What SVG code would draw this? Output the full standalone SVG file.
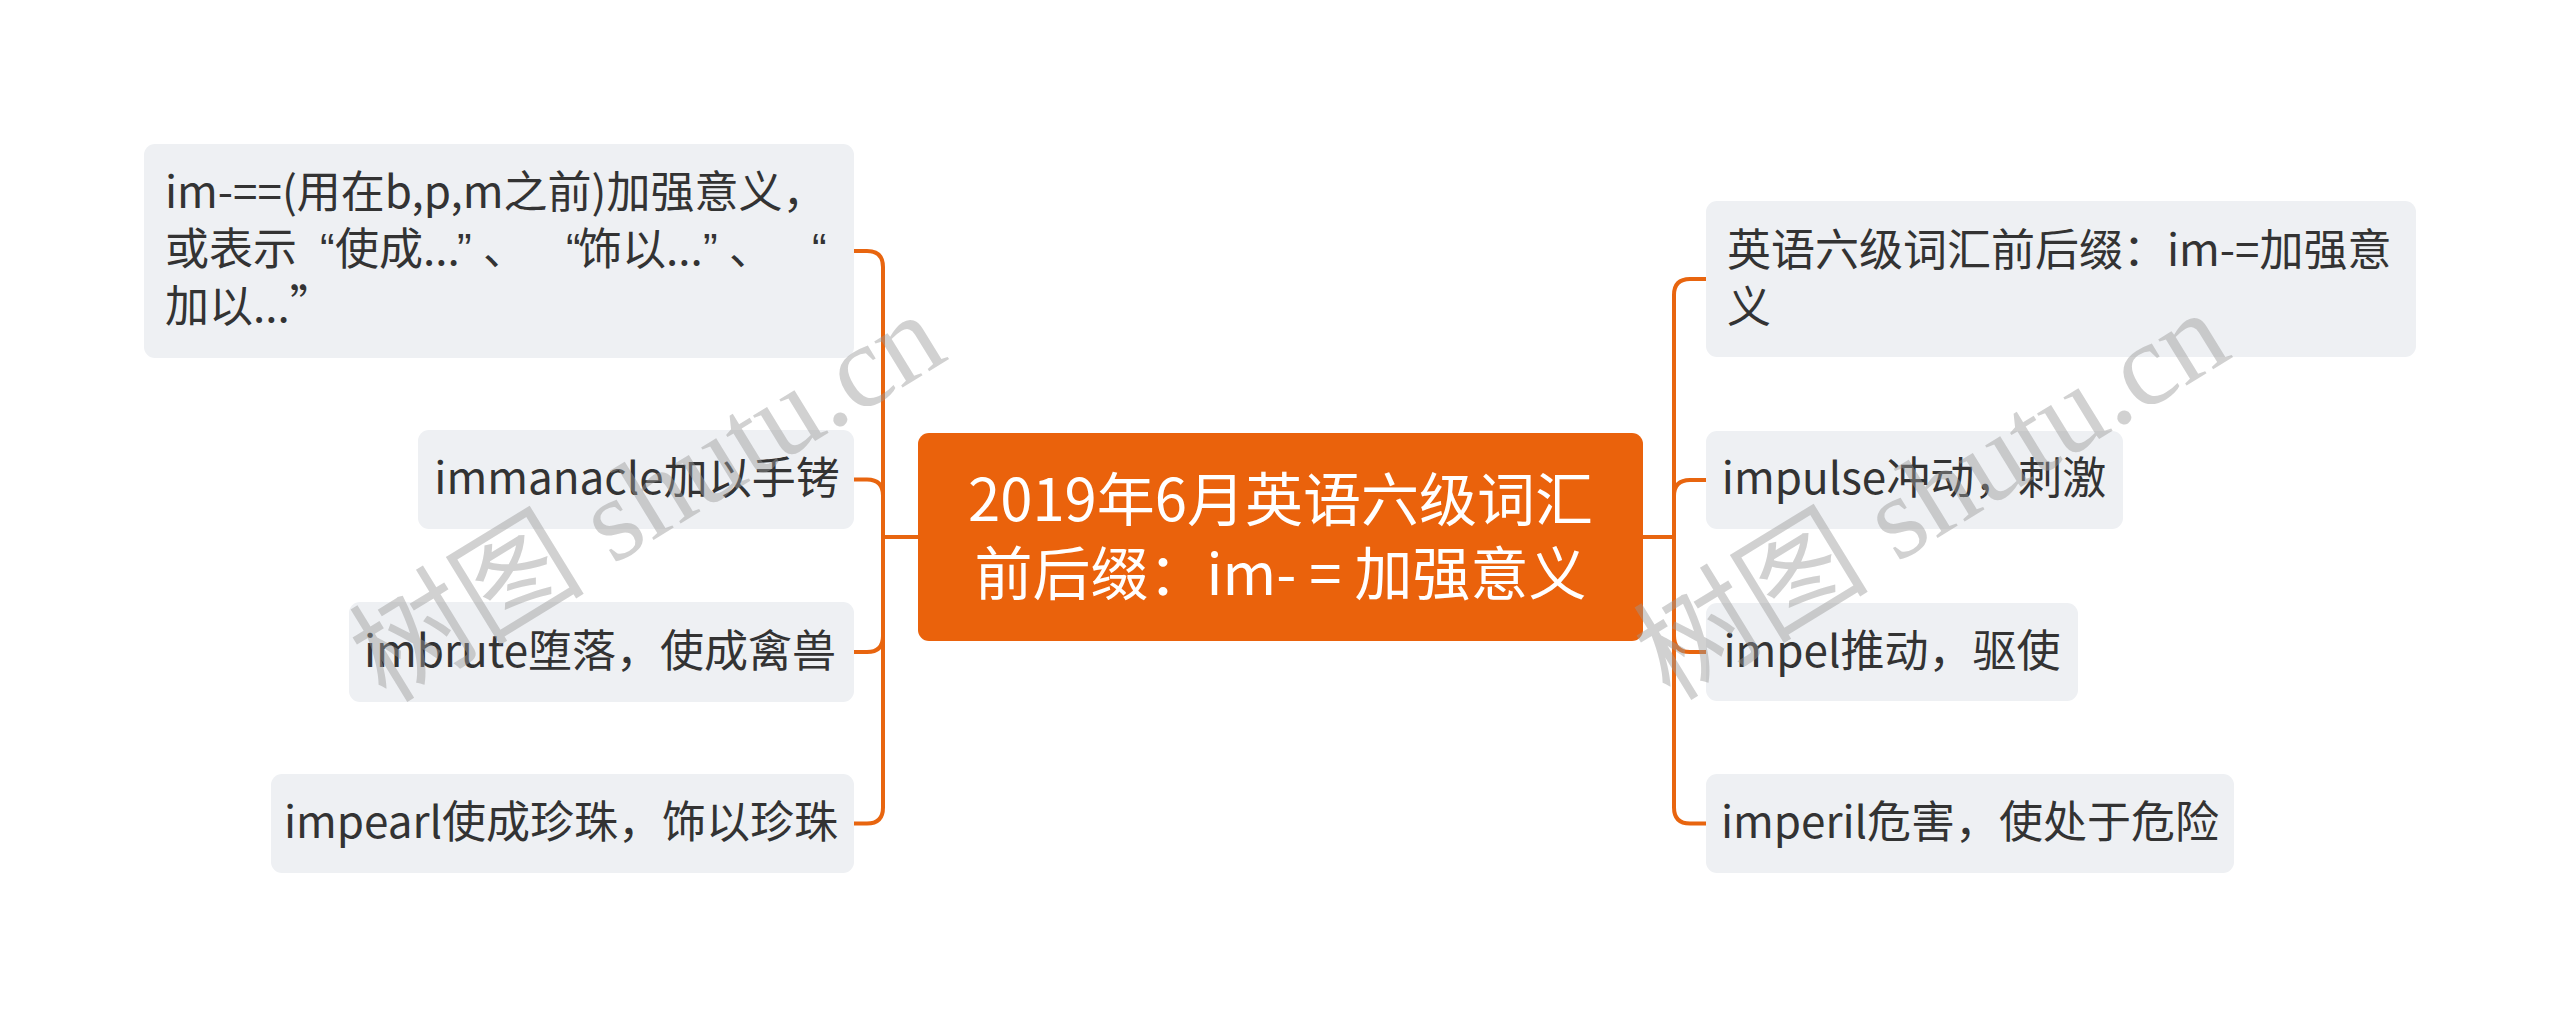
<svg xmlns="http://www.w3.org/2000/svg" width="2560" height="1017" viewBox="0 0 2560 1017">
<style>
.bg{fill:#ffffff}
.node rect{fill:#EEF0F3}
.t{font-family:"Noto Sans CJK SC","Noto Sans",sans-serif;font-size:44px;fill:#333333}
.q{font-family:"Liberation Sans",sans-serif}
.c{text-anchor:middle}
.root rect{fill:#EA620C}
.rt{font-family:"Noto Sans CJK SC","Noto Sans",sans-serif;font-size:58px;fill:#ffffff;text-anchor:middle}
.links path{fill:none;stroke:#E8650F;stroke-width:4;stroke-linecap:round;stroke-linejoin:round}
.wm{font-family:"Liberation Serif","Noto Sans CJK SC",serif;font-size:118px;fill:#999999;fill-opacity:0.45}
</style>
<rect class="bg" x="0" y="0" width="2560" height="1017"/>
<g class="links" id="connectors">
  <path d="M918,537 H883"/>
  <path d="M883,537 V267 Q883,251 867,251 H854"/>
  <path d="M883,537 V495.5 Q883,479.5 867,479.5 H854"/>
  <path d="M883,537 V636 Q883,652 867,652 H854"/>
  <path d="M883,537 V807.5 Q883,823.5 867,823.5 H854"/>
  <path d="M1643,537 H1674"/>
  <path d="M1674,537 V295 Q1674,279 1690,279 H1706"/>
  <path d="M1674,537 V496 Q1674,480 1690,480 H1706"/>
  <path d="M1674,537 V636 Q1674,652 1690,652 H1706"/>
  <path d="M1674,537 V807.5 Q1674,823.5 1690,823.5 H1706"/>
</g>
<g class="root" id="root">
  <rect x="918" y="433" width="725" height="208" rx="11"/>
  <text class="rt" x="1280.5" y="521">2019年6月英语六级词汇</text>
  <text class="rt" x="1280.5" y="595">前后缀：im- = 加强意义</text>
</g>
<g class="node" id="left1">
  <rect x="144" y="144" width="710" height="214" rx="11"/>
  <text class="t" x="165" y="208">im-==(用在b,p,m之前)加强意义，</text>
  <text class="t" y="265"><tspan x="165">或表示</tspan><tspan class="q" x="320">“</tspan><tspan x="335">使成...</tspan><tspan class="q" x="457">”</tspan><tspan x="483">、</tspan><tspan class="q" x="566">“</tspan><tspan x="578">饰以...</tspan><tspan class="q" x="703">”</tspan><tspan x="729">、</tspan><tspan class="q" x="812">“</tspan></text>
  <text class="t" x="165" y="322">加以...”</text>
</g>
<g class="node" id="left2">
  <rect x="418" y="430" width="436" height="99" rx="11"/>
  <text class="t c" x="637" y="494">immanacle加以手铐</text>
</g>
<g class="node" id="left3">
  <rect x="349" y="602" width="505" height="100" rx="11"/>
  <text class="t c" x="600" y="667">imbrute堕落，使成禽兽</text>
</g>
<g class="node" id="left4">
  <rect x="271" y="774" width="583" height="99" rx="11"/>
  <text class="t c" x="561" y="838">impearl使成珍珠，饰以珍珠</text>
</g>
<g class="node" id="right1">
  <rect x="1706" y="201" width="710" height="156" rx="11"/>
  <text class="t" x="1727" y="266">英语六级词汇前后缀：im-=加强意</text>
  <text class="t" x="1727" y="323">义</text>
</g>
<g class="node" id="right2">
  <rect x="1706" y="431" width="417" height="98" rx="11"/>
  <text class="t c" x="1914" y="494">impulse冲动，刺激</text>
</g>
<g class="node" id="right3">
  <rect x="1706" y="603" width="372" height="98" rx="11"/>
  <text class="t c" x="1892" y="667">impel推动，驱使</text>
</g>
<g class="node" id="right4">
  <rect x="1706" y="774" width="528" height="99" rx="11"/>
  <text class="t c" x="1970" y="838">imperil危害，使处于危险</text>
</g>
<g id="watermarks">
  <text class="wm" transform="translate(386,704) rotate(-31.5)">树图 shutu.cn</text>
  <text class="wm" transform="translate(1670,702) rotate(-31.5)">树图 shutu.cn</text>
</g>
</svg>
